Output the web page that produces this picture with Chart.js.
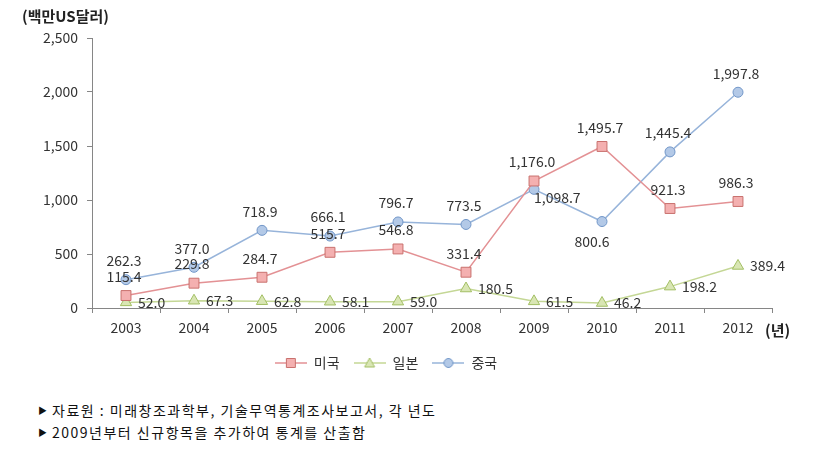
<!DOCTYPE html>
<html>
<head>
<meta charset="utf-8">
<script src="https://cdn.jsdelivr.net/npm/chart.js@4/dist/chart.umd.min.js"></script>
<style>
  html, body { margin: 0; padding: 0; background: #fff; }
  #wrap { position: relative; width: 822px; height: 452px; overflow: hidden; }
  #chart { position: absolute; left: 0; top: 0; }
  .unit { position: absolute; left: 22px; top: 5px; font: bold 15px "Noto Sans CJK KR", sans-serif; color: #222; }
  .year { position: absolute; left: 765px; top: 319px; font: bold 15px "Noto Sans CJK KR", sans-serif; color: #222; }
  .note { position: absolute; left: 38px; font: 14px "Noto Sans CJK KR", sans-serif; color: #111; letter-spacing: 1.5px; }
  .note span { font-size: 9px; margin-right: 5px; position: relative; top: -2px; letter-spacing: 0; }
</style>
</head>
<body>
<div id="wrap">
  <canvas id="chart" width="822" height="390"></canvas>
  <div class="unit">(백만US달러)</div>
  <div class="year">(년)</div>
  <div class="note" style="top:400px"><span>&#9654;</span>자료원 : 미래창조과학부, 기술무역통계조사보고서, 각 년도</div>
  <div class="note" style="top:422px"><span>&#9654;</span>2009년부터 신규항목을 추가하여 통계를 산출함</div>
</div>
<script>
(function () {
    'use strict';

    var years = ['2003', '2004', '2005', '2006', '2007', '2008', '2009', '2010', '2011', '2012'];
    var usValues = [115.4, 229.8, 284.7, 515.7, 546.8, 331.4, 1176.0, 1495.7, 921.3, 986.3];
    var japanValues = [52.0, 67.3, 62.8, 58.1, 59.0, 180.5, 61.5, 46.2, 198.2, 389.4];
    var chinaValues = [262.3, 377.0, 718.9, 666.1, 796.7, 773.5, 1098.7, 800.6, 1445.4, 1997.8];
    var seriesNames = ['미국', '일본', '중국'];
    var yTicks = [0, 500, 1000, 1500, 2000, 2500];

    var FONT = '"Noto Sans CJK KR", sans-serif';
    var TEXT = '#333333';

    var styles = [
        { line: '#e39194', fill: '#f4b0b0', border: '#c9716e', shape: 'rect', radius: 7 },
        { line: '#c4d795', fill: '#d9e6b4', border: '#a3bf64', shape: 'triangle', radius: 6.5 },
        { line: '#97b4da', fill: '#b3c9e7', border: '#7196c8', shape: 'circle', radius: 5 }
    ];

    // label placement: default above for lines 0/2, right for line 1
    var labelOverrides = {
        '2-6': { dx: 0, dy: 8, align: 'left' },
        '2-7': { dx: -10, dy: 20, align: 'center' }
    };

    function fmt(v) {
        return v.toLocaleString('en-US', { minimumFractionDigits: 1, maximumFractionDigits: 1 });
    }

    function legendIcon(s) {
        var c = document.createElement('canvas');
        c.width = 32; c.height = 14;
        var g = c.getContext('2d');
        g.strokeStyle = s.line; g.lineWidth = 1.5;
        g.beginPath(); g.moveTo(0, 7); g.lineTo(32, 7); g.stroke();
        g.fillStyle = s.fill; g.strokeStyle = s.border; g.lineWidth = 1;
        g.beginPath();
        if (s.shape === 'rect') g.rect(11.5, 2.5, 9, 9);
        else if (s.shape === 'circle') g.arc(16, 7, 4.5, 0, Math.PI * 2);
        else { g.moveTo(16, 2); g.lineTo(21, 11); g.lineTo(11, 11); g.closePath(); }
        g.fill(); g.stroke();
        return c;
    }

    var dataLabels = {
        id: 'dataLabels',
        afterDatasetsDraw: function (chart) {
            var ctx = chart.ctx;
            ctx.save();
            ctx.font = '14px ' + FONT;
            ctx.fillStyle = TEXT;
            ctx.textBaseline = 'middle';
            chart.data.datasets.forEach(function (ds, di) {
                chart.getDatasetMeta(di).data.forEach(function (pt, i) {
                    var o = labelOverrides[di + '-' + i];
                    if (!o) o = di === 1 ? { dx: 12, dy: 0, align: 'left' } : { dx: -2, dy: -19, align: 'center' };
                    ctx.textAlign = o.align;
                    ctx.fillText(fmt(ds.data[i]), pt.x + o.dx, pt.y + o.dy);
                });
            });
            ctx.restore();
        }
    };

    var allValues = [usValues, japanValues, chinaValues];
    var datasets = allValues.map(function (vals, i) {
        var s = styles[i];
        return {
            label: seriesNames[i],
            data: vals,
            borderColor: s.line,
            borderWidth: 1.5,
            backgroundColor: s.fill,
            pointStyle: s.shape,
            pointRadius: s.radius,
            pointBackgroundColor: s.fill,
            pointBorderColor: s.border,
            pointBorderWidth: 1,
            tension: 0,
            fill: false
        };
    });

    new Chart(document.getElementById('chart'), {
        type: 'line',
        data: { labels: years, datasets: datasets },
        plugins: [dataLabels],
        options: {
            responsive: false,
            animation: false,
            events: [],
            layout: { padding: { left: 0, right: 50, top: 38, bottom: 10 } },
            plugins: {
                tooltip: { enabled: false },
                legend: {
                    position: 'bottom',
                    labels: {
                        usePointStyle: true,
                        pointStyleWidth: 32,
                        boxHeight: 12,
                        padding: 14,
                        color: TEXT,
                        font: { family: FONT, size: 14 },
                        generateLabels: function (chart) {
                            return chart.data.datasets.map(function (ds, i) {
                                return {
                                    text: ds.label,
                                    pointStyle: legendIcon(styles[i]),
                                    fillStyle: styles[i].fill,
                                    strokeStyle: styles[i].border,
                                    lineWidth: 0,
                                    fontColor: TEXT,
                                    hidden: false,
                                    datasetIndex: i
                                };
                            });
                        }
                    }
                }
            },
            scales: {
                x: {
                    offset: true,
                    afterFit: function (scale) { scale.height = 34; },
                    grid: { display: true, drawOnChartArea: false, tickLength: 5, color: '#868686', offset: true },
                    border: { color: '#868686' },
                    ticks: { color: TEXT, padding: 6, font: { family: FONT, size: 14 }, maxRotation: 0 }
                },
                y: {
                    min: 0,
                    max: 2500,
                    afterFit: function (scale) { scale.width = 92; },
                    afterBuildTicks: function (scale) {
                        scale.ticks = yTicks.map(function (v) { return { value: v }; });
                    },
                    grid: { display: true, drawOnChartArea: false, tickLength: 5, color: '#868686' },
                    border: { color: '#868686' },
                    ticks: {
                        color: TEXT,
                        padding: 9,
                        font: { family: FONT, size: 14 },
                        callback: function (v) { return v.toLocaleString('en-US'); }
                    }
                }
            }
        }
    });
})();
</script>
</body>
</html>
